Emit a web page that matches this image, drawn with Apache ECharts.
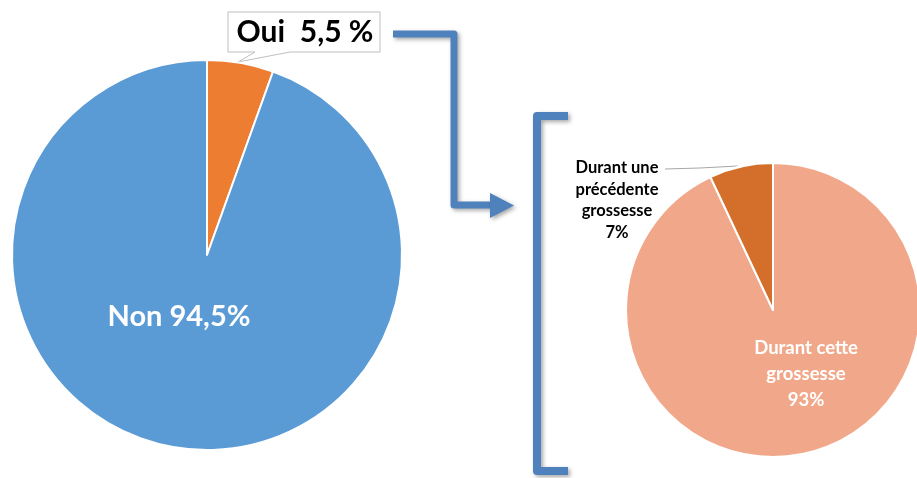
<!DOCTYPE html>
<html><head><meta charset="utf-8">
<script src="https://cdn.jsdelivr.net/npm/echarts@6/dist/echarts.min.js"></script>
<style>html,body{margin:0;padding:0;background:#fff}#c{width:917px;height:478px}</style>
</head><body><div id="c"></div>
<script>
var mainNames = ['Oui', 'Non'];
var mainValues = [5.5, 94.5];
var mainLabels = ['Oui  5,5 %', 'Non 94,5%'];
var subNames = ['Durant cette grossesse', 'Durant une précédente grossesse'];
var subValues = [93, 7];
var subLabels = ['Durant cette\ngrossesse\n93%', 'Durant une\nprécédente\ngrossesse\n7%'];

var FONT = 'Lato';
var chart = echarts.init(document.getElementById('c'));
var shadow = {shadowBlur: 4, shadowColor: 'rgba(0,0,0,0.35)', shadowOffsetX: 2, shadowOffsetY: 2};

chart.setOption({
  animation: false,
  series: [{
    type: 'pie',
    center: [207, 255],
    radius: [0, 195],
    startAngle: 90,
    clockwise: true,
    silent: true,
    itemStyle: {borderColor: '#fff', borderWidth: 2},
    labelLine: {show: false},
    data: mainNames.map(function (n, i) {
      return {
        name: n, value: mainValues[i],
        itemStyle: {color: ['#ED7D31', '#5B9BD5'][i]},
        label: i === 0 ?
          {show: true, position: 'outside', formatter: mainLabels[i], color: '#000', fontFamily: FONT, fontWeight: 'bold', fontSize: 30} :
          {show: true, position: 'inside', formatter: mainLabels[i], color: '#fff', fontFamily: FONT, fontWeight: 'bold', fontSize: 29}
      };
    }),
    labelLayout: function (p) {
      return p.dataIndex === 0 ?
        {x: 305, y: 32, align: 'center', verticalAlign: 'middle'} :
        {x: 179, y: 317, align: 'center', verticalAlign: 'middle'};
    }
  }, {
    type: 'pie',
    center: [773, 310],
    radius: [0, 147],
    startAngle: 90,
    clockwise: true,
    silent: true,
    itemStyle: {borderColor: '#fff', borderWidth: 2},
    data: subNames.map(function (n, i) {
      return {
        name: n, value: subValues[i],
        itemStyle: {color: ['#F1A88A', '#D36F2B'][i]},
        label: i === 0 ?
          {show: true, position: 'inside', formatter: subLabels[i], color: '#fff', fontFamily: FONT, fontWeight: 'bold', fontSize: 18.5, lineHeight: 26, align: 'center'} :
          {show: true, position: 'outside', formatter: subLabels[i], color: '#000', fontFamily: FONT, fontWeight: 'bold', fontSize: 16.5, lineHeight: 21.5, align: 'center'},
        labelLine: i === 0 ? {show: false} : {show: true, lineStyle: {color: '#A6A6A6', width: 1}}
      };
    }),
    labelLayout: function (p) {
      return p.dataIndex === 0 ?
        {x: 806, y: 374, align: 'center', verticalAlign: 'middle'} :
        {x: 617, y: 200, align: 'center', verticalAlign: 'middle',
         labelLinePoints: [[738, 166], [700, 168], [665, 169]]};
    }
  }],
  graphic: [
    {type: 'polygon', z: -1,
     shape: {points: [[228, 12], [380, 12], [380, 52], [290, 52], [238, 62], [255, 52], [228, 52]]},
     style: {fill: '#fff', stroke: '#BFBFBF', lineWidth: 1}},
    {type: 'polyline', z: 10,
     shape: {points: [[393, 34], [454, 34], [454, 205], [494, 205]]},
     style: Object.assign({stroke: '#4F81BD', lineWidth: 7, fill: null, lineJoin: 'round'}, shadow)},
    {type: 'polygon', z: 10,
     shape: {points: [[490, 193], [514, 205.5], [490, 218]]},
     style: Object.assign({fill: '#4F81BD'}, shadow)},
    {type: 'polyline', z: 10,
     shape: {points: [[568, 116], [537, 116], [537, 471], [568, 471]]},
     style: Object.assign({stroke: '#4F81BD', lineWidth: 8, fill: null, lineJoin: 'round'}, shadow)}
  ]
});
</script></body></html>
